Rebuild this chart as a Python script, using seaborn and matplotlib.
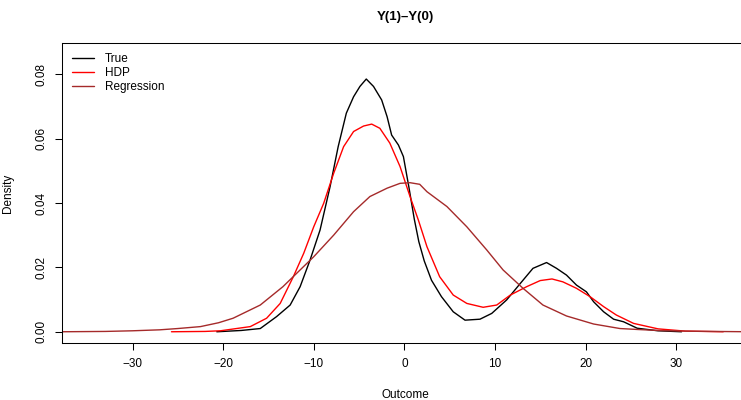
"""
Density of Y(1)-Y(0): true effect vs HDP and regression estimates
"""

import matplotlib.pyplot as plt
import pandas as pd
import seaborn as sns

# Density curves (outcome value, density)
true_x = [-20.7, -18.0, -15.9, -14.1, -12.6, -11.5, -10.4, -9.3, -8.2, -7.3,
          -6.4, -5.6, -4.9, -4.2, -3.4, -2.5, -1.9, -1.4, -0.65, -0.1,
          0.5, 1.1, 1.6, 2.2, 3.0, 4.1, 5.4, 6.7, 8.35, 9.65,
          11.3, 12.8, 14.2, 15.7, 16.8, 17.9, 19.0, 20.1, 20.9, 22.0,
          23.1, 24.2, 25.7, 28.0, 30.6]
true_y = [0.0, 0.0004, 0.001, 0.0047, 0.0083, 0.014, 0.0223, 0.0316, 0.045, 0.0575,
          0.0679, 0.073, 0.0762, 0.0785, 0.0762, 0.072, 0.0668, 0.0611, 0.058, 0.0544,
          0.045, 0.035, 0.028, 0.022, 0.016, 0.0109, 0.0062, 0.0036, 0.0039, 0.0057,
          0.0099, 0.015, 0.0197, 0.0215, 0.0197, 0.0176, 0.0145, 0.0124, 0.0093, 0.0062,
          0.0039, 0.0031, 0.0011, 0.0003, 0.0]

hdp_x = [-25.7, -22.0, -20.3, -17.0, -15.2, -13.7, -12.25, -11.1, -10.0, -8.9,
         -7.8, -6.7, -5.6, -4.5, -3.6, -2.7, -1.6, -0.47, 0.63, 1.55,
         2.5, 3.9, 5.4, 6.9, 8.7, 10.2, 11.7, 13.5, 15.0, 16.3,
         17.5, 19.0, 20.5, 22.0, 23.4, 25.3, 28.0, 31.0, 35.2]
hdp_y = [0.0, 0.0001, 0.0003, 0.0016, 0.0042, 0.0088, 0.0171, 0.0244, 0.0326, 0.0399,
         0.0492, 0.0575, 0.0622, 0.0639, 0.0645, 0.0632, 0.0586, 0.0513, 0.042, 0.0347,
         0.0264, 0.0171, 0.0114, 0.0088, 0.0076, 0.0083, 0.0114, 0.014, 0.0159, 0.0164,
         0.0155, 0.0135, 0.0109, 0.0078, 0.0052, 0.0026, 0.0009, 0.0002, 0.0]

reg_x = [-37.75, -33.0, -30.0, -27.0, -25.0, -22.5, -20.5, -18.9, -15.9, -13.4,
         -11.5, -10.0, -7.8, -5.6, -3.8, -1.9, -0.47, 0.63, 1.7, 2.5,
         4.7, 6.9, 9.1, 10.9, 13.1, 15.3, 17.9, 20.9, 23.8, 25.8,
         28.0, 31.0, 34.0, 38.0]
reg_y = [0.0, 0.0001, 0.0003, 0.0006, 0.001, 0.0016, 0.0028, 0.0042, 0.0083, 0.014,
         0.0192, 0.0233, 0.030, 0.0373, 0.042, 0.0446, 0.0461, 0.0463, 0.0458, 0.0435,
         0.0389, 0.0326, 0.0254, 0.0192, 0.0135, 0.0083, 0.0049, 0.0024, 0.001, 0.0007,
         0.0004, 0.0002, 0.0001, 0.0]

series_names = ['True', 'HDP', 'Regression']
series_colors = ['black', 'red', '#A52A2A']
x_ticks = [-30, -20, -10, 0, 10, 20, 30]
y_ticks = [0.00, 0.02, 0.04, 0.06, 0.08]
y_tick_labels = ['0.00', '0.02', '0.04', '0.06', '0.08']


def make_density_plot():
    """Draw the three density curves in an R base-graphics look"""

    sns.set_theme(style='white')
    plt.rcParams['font.family'] = ['Liberation Sans', 'DejaVu Sans']
    plt.rcParams['text.color'] = 'black'
    plt.rcParams['axes.labelcolor'] = 'black'
    plt.rcParams['xtick.color'] = 'black'
    plt.rcParams['ytick.color'] = 'black'

    # long-form table for seaborn
    curves = pd.concat([
        pd.DataFrame({'Outcome': true_x, 'Density': true_y, 'Series': 'True'}),
        pd.DataFrame({'Outcome': hdp_x, 'Density': hdp_y, 'Series': 'HDP'}),
        pd.DataFrame({'Outcome': reg_x, 'Density': reg_y, 'Series': 'Regression'}),
    ], ignore_index=True)

    fig = plt.figure(figsize=(7.41, 4.0), dpi=100)
    # plot box runs off the right edge like in the original
    ax = fig.add_axes([62.3 / 741, 57.3 / 400, 686.3 / 741, 299.4 / 400])

    sns.lineplot(data=curves, x='Outcome', y='Density', hue='Series',
                 hue_order=series_names, palette=series_colors,
                 estimator=None, sort=False, linewidth=1.0,
                 legend=False, ax=ax)

    ax.set_xlim(-37.75, 38.0)
    ax.set_ylim(-0.0034, 0.0896)
    ax.set_xticks(x_ticks)
    ax.set_yticks(y_ticks)
    ax.set_yticklabels(y_tick_labels)

    for side in ['left', 'right', 'top', 'bottom']:
        ax.spines[side].set_visible(True)
        ax.spines[side].set_color('black')
        ax.spines[side].set_linewidth(0.75)

    ax.tick_params(axis='both', which='major', direction='out', length=5,
                   width=0.75, color='black', labelcolor='black',
                   labelsize=8.5, pad=6,
                   bottom=True, left=True, top=False, right=False)
    plt.setp(ax.get_yticklabels(), rotation=90, va='center')

    ax.set_xlabel('Outcome', fontsize=8.5, labelpad=14, color='black')
    ax.set_ylabel('Density', fontsize=8.5, labelpad=15, color='black')
    ax.set_title('Y(1)\u2013Y(0)', fontsize=9.5, fontweight='bold', pad=17,
                 color='black')

    # legend in the top-left corner without a box (bty = "n")
    ax.legend(ax.lines[:3], series_names, loc='upper left',
              borderaxespad=0, fontsize=8.5, frameon=False,
              borderpad=0.8, handlelength=1.9, handletextpad=0.9,
              labelspacing=0.2)

    fig.savefig('out.png', dpi=100)
    plt.close(fig)


if __name__ == "__main__":
    make_density_plot()
